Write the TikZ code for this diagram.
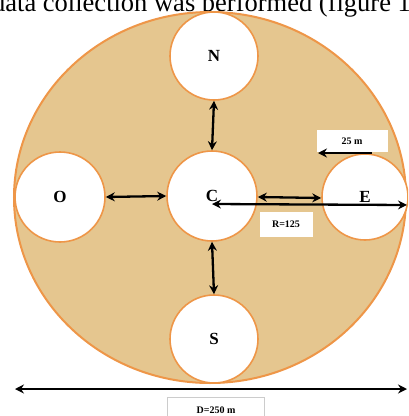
\documentclass[tikz,border=0pt]{standalone}
\usepackage{fontspec}
\setmainfont{Liberation Serif}
\usetikzlibrary{arrows.meta}
\definecolor{kraft}{RGB}{229,198,143}
\definecolor{rim}{RGB}{238,150,72}
\begin{document}
\begin{tikzpicture}[x=1pt,y=-1pt,
 plot/.style={circle,draw=rim,line width=1.6pt,fill=white,inner sep=0pt,font=\bfseries\fontsize{17}{17}\selectfont},
 tip/.tip={Stealth[length=9pt,width=9pt,inset=3pt]},
 arr/.style={line width=2.3pt,tip-tip},
 arrone/.style={line width=2.3pt,-tip},
 tag/.style={fill=white,inner sep=0pt,font=\bfseries\fontsize{10}{10}\selectfont}]
\useasboundingbox (0,0) rectangle (408,416);
\clip (0,0) rectangle (408,416);
\node[anchor=base west,inner sep=0pt,font=\fontsize{26.5}{30}\selectfont] (cap) at (-8,11.5) {data collection was performed (figure 1};
\draw[draw=rim,line width=2pt,fill=kraft] (210,197.5) ellipse [x radius=196,y radius=185.5];
\node[plot,minimum size=88pt] (N) at (214,56) {N};
\node[plot,minimum size=90pt] (C) at (212,196) {C};
\node[plot,minimum size=90pt] (O) at (60,197) {O};
\node[plot,minimum size=86pt] (E) at (365,197) {E};
\node[plot,minimum size=88pt] (S) at (214,339) {S};
\coordinate (Rend) at (407,205);
\coordinate (a25) at (372,153);
\coordinate (b25) at (318,153);
\coordinate (Dl) at (15,389);
\coordinate (Dr) at (407,389);
\draw[arr] (N.south) -- (C.north);
\draw[arr] (C.south) -- (S.north);
\draw[arr] (O.east) -- (C.west);
\draw[arr] ([yshift=-1pt]C.east) -- ([yshift=-1pt]E.west);
\draw[arr] ([yshift=-8pt]C.center) -- (Rend);
\node[tag,minimum width=71pt,minimum height=22pt] (t25) at (352,141) {25 m};
\draw[arrone] (a25) -- (b25);
\node[tag,minimum width=53pt,minimum height=25pt] (tR) at (286,224) {R=125};
\draw[arr] (Dl) -- (Dr);
\node[tag,draw=gray!40,line width=0.5pt,minimum width=97pt,minimum height=26pt] (tD) at (216,410) {D=250 m};
\end{tikzpicture}
\end{document}
